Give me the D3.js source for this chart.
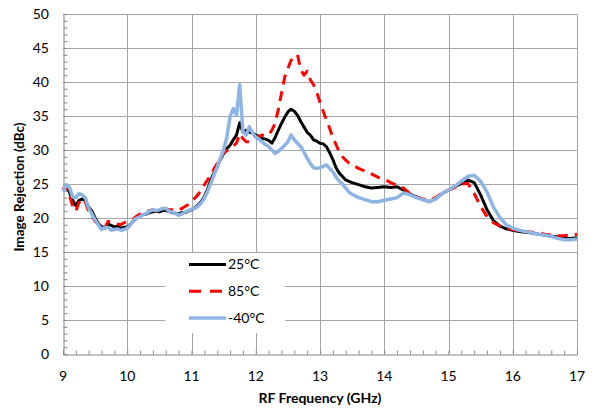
<!DOCTYPE html>
<html>
<head>
<meta charset="utf-8">
<script src="https://cdn.jsdelivr.net/npm/d3@7"></script>
<style>
  html, body { margin: 0; padding: 0; background: #fff; }
  svg { display: block; }
  text { font-family: Lato, "Open Sans", "Liberation Sans", sans-serif; fill: #000; }
</style>
</head>
<body>
<svg id="chart" width="593" height="414"></svg>
<script>
// Measured RF frequency points (GHz)
const freq = [
  9.00, 9.05, 9.10, 9.15, 9.20, 9.25, 9.30, 9.35, 9.40, 9.45,
  9.50, 9.55, 9.60, 9.65, 9.70, 9.75, 9.80, 9.85, 9.90, 9.95,
  10.00, 10.05, 10.10, 10.15, 10.20, 10.25, 10.30, 10.35, 10.40, 10.45,
  10.50, 10.55, 10.60, 10.65, 10.70, 10.75, 10.80, 10.85, 10.90, 10.95,
  11.00, 11.05, 11.10, 11.15, 11.20, 11.25, 11.30, 11.35, 11.40, 11.45,
  11.50, 11.55, 11.60, 11.65, 11.70, 11.75, 11.80, 11.85, 11.90, 11.95,
  12.00, 12.05, 12.10, 12.15, 12.20, 12.25, 12.30, 12.35, 12.40, 12.45,
  12.50, 12.55, 12.60, 12.65, 12.70, 12.75, 12.80, 12.85, 12.90, 12.95,
  13.00, 13.05, 13.10, 13.15, 13.20, 13.25, 13.30, 13.35, 13.40, 13.45,
  13.50, 13.6, 13.7, 13.8, 13.9, 14.0, 14.1, 14.2, 14.3, 14.4,
  14.5, 14.6, 14.7, 14.8, 14.9, 15.0, 15.1, 15.2, 15.3, 15.4,
  15.5, 15.6, 15.7, 15.8, 15.9, 16.0, 16.1, 16.2, 16.3, 16.4,
  16.5, 16.6, 16.7, 16.8, 16.9, 17.0
];

// Image rejection (dBc) at 25°C
const ir25 = [
  24.0, 24.7, 23.8, 22.6, 21.8, 22.6, 22.8, 22.5, 21.6, 21.0,
  20.0, 19.2, 18.7, 18.6, 19.1, 18.9, 18.7, 18.8, 18.5, 18.6,
  18.7, 19.1, 19.6, 20.0, 20.3, 20.5, 20.6, 20.8, 20.9, 21.0,
  20.9, 21.1, 21.1, 21.0, 20.8, 20.7, 20.6, 20.8, 20.8, 21.0,
  21.2, 21.5, 21.9, 22.4, 23.1, 24.2, 25.6, 26.6, 27.5, 28.6,
  29.5, 30.2, 30.7, 31.5, 32.2, 34.0, 32.6, 32.9, 32.6, 32.5,
  32.2, 32.0, 31.7, 31.6, 31.4, 31.0, 31.8, 32.9, 33.9, 34.8,
  35.6, 36.0, 35.7, 35.1, 34.2, 33.4, 32.6, 32.2, 31.5, 31.3,
  31.0, 30.9, 30.5, 29.6, 28.6, 27.4, 26.6, 26.1, 25.6, 25.4,
  25.2, 24.9, 24.6, 24.4, 24.5, 24.6, 24.5, 24.6, 24.1, 23.5,
  23.1, 22.7, 22.4, 22.8, 23.6, 24.1, 24.6, 25.1, 25.6, 25.2,
  23.4, 21.2, 19.6, 18.8, 18.4, 18.2, 18.0, 17.9, 17.8, 17.6,
  17.5, 17.3, 17.2, 17.0, 17.0, 17.1
];

// Image rejection (dBc) at 85°C
const ir85 = [
  24.2, 24.8, 23.4, 21.7, 21.0, 22.3, 21.8, 22.3, 20.9, 20.3,
  19.5, 19.2, 19.0, 18.5, 19.5, 19.4, 19.2, 19.1, 19.0, 19.3,
  19.5, 19.7, 19.9, 20.3, 20.6, 20.8, 20.9, 21.1, 21.2, 21.0,
  21.1, 21.3, 21.4, 21.2, 21.2, 21.1, 21.2, 21.4, 21.7, 22.0,
  22.4, 22.9, 23.4, 24.1, 24.9, 25.6, 26.3, 27.2, 28.0, 28.8,
  29.5, 29.9, 30.2, 30.6, 31.0, 32.4, 31.7, 31.2, 31.2, 31.5,
  31.9, 32.0, 32.2, 32.1, 32.2, 32.9, 33.9, 35.9, 38.3, 40.7,
  42.0, 43.2, 43.6, 44.0, 41.8, 41.0, 41.6, 40.3, 39.6, 38.5,
  37.0, 35.7, 34.4, 33.2, 31.8, 30.8, 29.7, 29.0, 28.5, 28.1,
  27.8, 27.3, 26.9, 26.5, 26.0, 25.7, 25.2, 24.8, 24.4, 23.6,
  23.1, 22.8, 22.6, 23.0, 23.7, 24.1, 24.5, 25.0, 25.1, 23.6,
  21.7, 20.2, 19.3, 18.8, 18.5, 18.3, 18.1, 18.0, 17.9, 17.8,
  17.6, 17.5, 17.4, 17.4, 17.5, 17.6
];

// Image rejection (dBc) at -40°C
const irm40 = [
  23.9, 24.9, 24.5, 23.1, 23.0, 23.6, 23.4, 22.9, 21.4, 20.6,
  19.7, 19.0, 18.3, 18.6, 18.6, 18.2, 18.3, 18.4, 18.2, 18.3,
  18.5, 19.0, 19.7, 20.0, 20.2, 20.5, 20.7, 21.0, 21.2, 21.1,
  21.2, 21.4, 21.4, 21.0, 20.9, 20.7, 20.4, 20.6, 20.9, 21.1,
  21.3, 21.4, 21.7, 22.2, 22.9, 23.9, 25.1, 26.3, 27.5, 28.8,
  30.0, 31.9, 34.9, 36.1, 35.1, 39.6, 32.7, 32.2, 33.4, 32.5,
  31.9, 31.6, 31.2, 30.8, 30.5, 30.0, 29.5, 29.8, 30.2, 30.7,
  31.2, 32.2, 31.5, 31.0, 30.5, 29.7, 28.8, 28.0, 27.4, 27.3,
  27.4, 27.6, 27.8, 27.3, 26.8, 26.0, 25.4, 25.0, 24.4, 23.8,
  23.5, 23.0, 22.7, 22.4, 22.4, 22.6, 22.8, 23.0, 23.7, 23.4,
  23.0, 22.7, 22.4, 22.8, 23.6, 24.1, 24.7, 25.4, 26.1, 26.3,
  25.4, 23.8, 21.6, 20.1, 19.0, 18.5, 18.2, 18.0, 17.8, 17.6,
  17.5, 17.3, 17.0, 16.8, 16.8, 16.9
];

const seriesNames = ["25°C", "85°C", "-40°C"];
const xTicks = [9, 10, 11, 12, 13, 14, 15, 16, 17];
const yTicks = [0, 5, 10, 15, 20, 25, 30, 35, 40, 45, 50];

const styles = [
  { color: "#000000", width: 3, dash: null },
  { color: "#ff0000", width: 3, dash: "10,7" },
  { color: "#8db4e2", width: 3.5, dash: null }
];
const seriesValues = [ir25, ir85, irm40];

const svg = d3.select("#chart");
const margin = { left: 63, right: 16, top: 14, bottom: 60 };
const W = 593, H = 414;

const x = d3.scaleLinear().domain([9, 17]).range([margin.left, W - margin.right]);
const y = d3.scaleLinear().domain([0, 50]).range([H - margin.bottom, margin.top]);

// grid lines
const grid = svg.append("g");
grid.selectAll("line.h").data(yTicks.filter(d => d > 0)).join("line")
  .attr("x1", x(9)).attr("x2", x(17))
  .attr("y1", d => Math.round(y(d)) + 0.5).attr("y2", d => Math.round(y(d)) + 0.5)
  .attr("stroke", "#a6a6a6").attr("stroke-width", 1);
grid.selectAll("line.v").data(xTicks.filter(d => d > 9)).join("line")
  .attr("x1", d => Math.round(x(d)) + 0.5).attr("x2", d => Math.round(x(d)) + 0.5)
  .attr("y1", y(0)).attr("y2", y(50))
  .attr("stroke", "#a6a6a6").attr("stroke-width", 1);

// axes with inward minor ticks
const yAxis = d3.axisLeft(y).tickValues(d3.range(0, 51, 1)).tickSize(-4).tickFormat("");
const gy = svg.append("g").attr("transform", `translate(${Math.round(x(9)) + 0.5},0)`).call(yAxis);
const xAxis = d3.axisBottom(x).tickValues(d3.range(9, 17.01, 0.2)).tickSize(-4).tickFormat("");
const gx = svg.append("g").attr("transform", `translate(0,${Math.round(y(0)) + 0.5})`).call(xAxis);
[gx, gy].forEach(g => {
  g.selectAll("path").attr("stroke", "#868686");
  g.selectAll("line").attr("stroke", "#868686");
});

// tick labels
svg.append("g").selectAll("text").data(yTicks).join("text")
  .attr("x", 49).attr("y", d => y(d)).attr("dy", "0.35em")
  .attr("text-anchor", "end").attr("font-size", 14)
  .text(d => d);
svg.append("g").selectAll("text").data(xTicks).join("text")
  .attr("x", d => x(d)).attr("y", 376).attr("dy", "0.35em")
  .attr("text-anchor", "middle").attr("font-size", 14)
  .text(d => d);

// axis titles
svg.append("text")
  .attr("x", x(13)).attr("y", 398).attr("dy", "0.35em")
  .attr("text-anchor", "middle").attr("font-size", 14).attr("font-weight", "bold")
  .text("RF Frequency (GHz)");
svg.append("text")
  .attr("transform", `translate(19,${(y(0) + y(50)) / 2 + 3}) rotate(-90)`)
  .attr("dy", "0.35em")
  .attr("text-anchor", "middle").attr("font-size", 13.5).attr("font-weight", "bold")
  .text("Image Rejection (dBc)");

// data lines
const line = d3.line().x((d, i) => x(freq[i])).y(d => y(d));
seriesValues.forEach((vals, k) => {
  svg.append("path").datum(vals)
    .attr("d", line)
    .attr("fill", "none")
    .attr("stroke", styles[k].color)
    .attr("stroke-width", styles[k].width)
    .attr("stroke-linejoin", "round")
    .attr("stroke-dasharray", styles[k].dash);
});

// legend
const leg = svg.append("g");
leg.append("rect").attr("x", 165).attr("y", 253).attr("width", 120).attr("height", 80).attr("fill", "#fff");
seriesNames.forEach((name, k) => {
  const ly = 264.5 + k * 26.7;
  leg.append("line").attr("x1", 189).attr("x2", 226).attr("y1", ly).attr("y2", ly)
    .attr("stroke", styles[k].color).attr("stroke-width", styles[k].width)
    .attr("stroke-dasharray", styles[k].dash ? "12,9" : null);
  leg.append("text").attr("x", 228).attr("y", ly).attr("dy", "0.35em")
    .attr("font-size", 14).text(name);
});
</script>
</body>
</html>
